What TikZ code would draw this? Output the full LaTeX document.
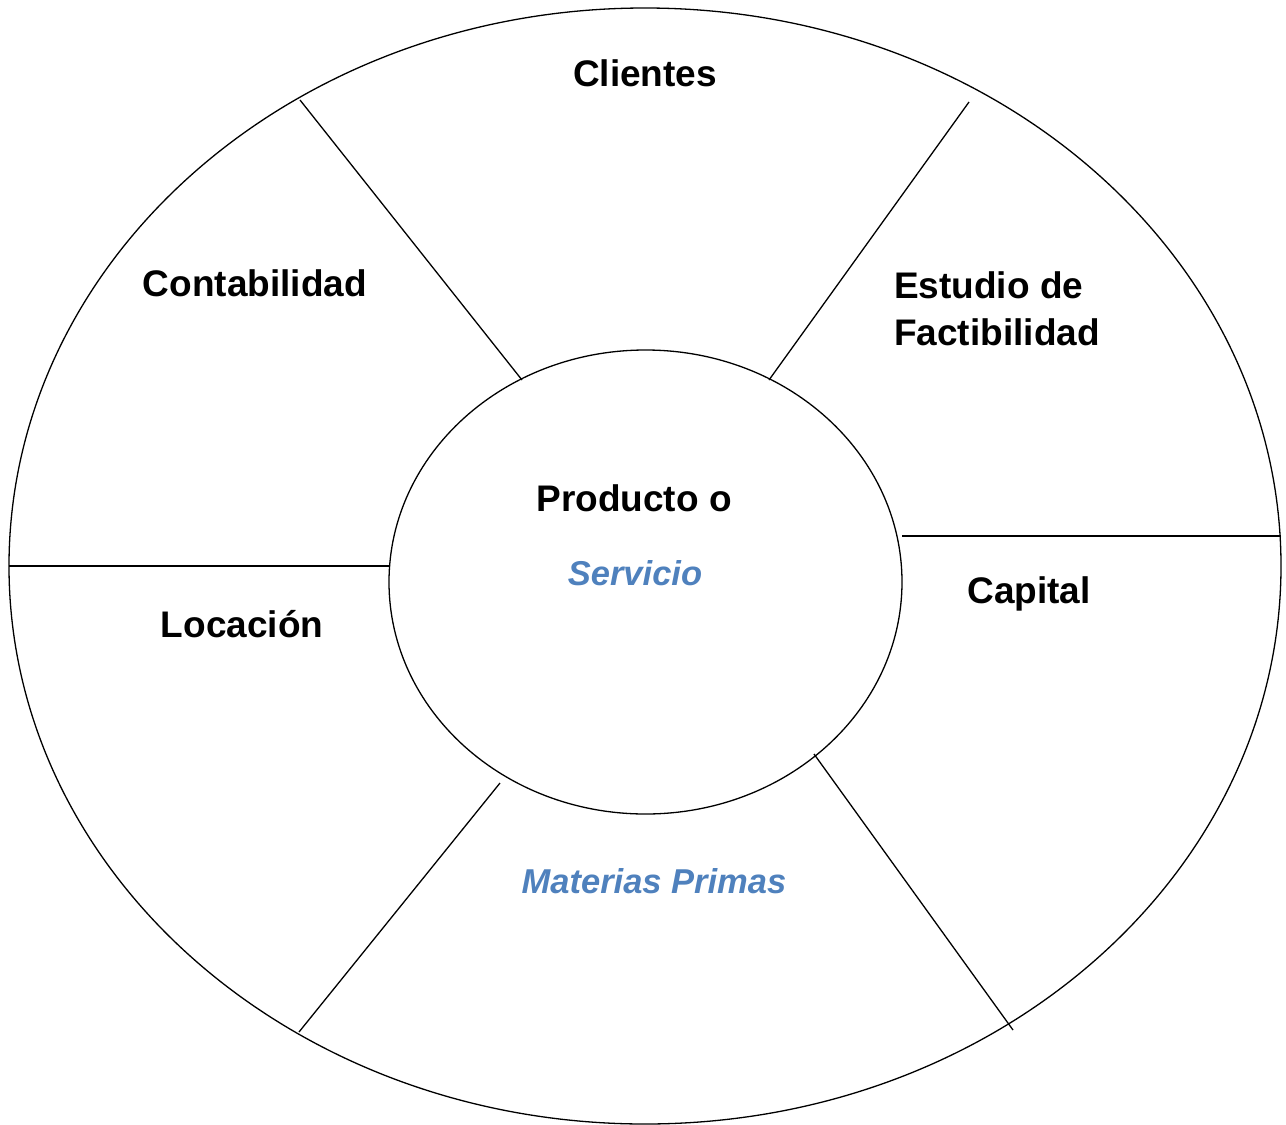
\documentclass[tikz,border=0pt]{standalone}
\usepackage{fontspec}
\setmainfont{Liberation Sans}
\definecolor{accentblue}{HTML}{4F81BD}
\begin{document}
\begin{tikzpicture}[x=1pt,y=-1pt,
  ring/.style={draw=black,line width=1.3pt},
  divider/.style={draw=black,line width=1.3pt},
  lbl/.style={font=\fontsize{37}{44}\selectfont\bfseries,inner sep=0pt},
  blbl/.style={lbl,font=\fontsize{34.5}{41}\selectfont\bfseries\itshape,text=accentblue}]
\useasboundingbox (0,0) rectangle (1286,1125);
\draw[ring] (645,566) ellipse [x radius=636,y radius=558];
\draw[ring] (645.5,582) ellipse [x radius=256.5,y radius=232];
\coordinate (o1) at (300,100); \coordinate (i1) at (522,380);
\coordinate (o2) at (969,102); \coordinate (i2) at (769,380);
\coordinate (o3) at (1281,536); \coordinate (i3) at (902,536);
\coordinate (o4) at (9,566); \coordinate (i4) at (389,566);
\coordinate (o5) at (299,1032); \coordinate (i5) at (500,783);
\coordinate (o6) at (1013,1030); \coordinate (i6) at (814,754);
\draw[divider] (o1) -- (i1);
\draw[divider] (o2) -- (i2);
\draw[divider] (o3) -- (i3);
\draw[divider] (o4) -- (i4);
\draw[divider] (o5) -- (i5);
\draw[divider] (o6) -- (i6);
\node[lbl] (clientes) at (645,73) {Clientes};
\node[lbl] (contab) at (255,283) {Contabilidad};
\node[lbl,anchor=west] (estudio) at (894,285) {Estudio de};
\node[lbl,anchor=west] (factib) at (894,332) {Factibilidad};
\node[lbl] (producto) at (634,498) {Producto o};
\node[blbl] (servicio) at (635,573) {Servicio};
\node[lbl] (capital) at (1029,594) {Capital};
\node[lbl] (locacion) at (242,624) {Locación};
\node[blbl] (materias) at (654,881) {Materias Primas};
\end{tikzpicture}
\end{document}
